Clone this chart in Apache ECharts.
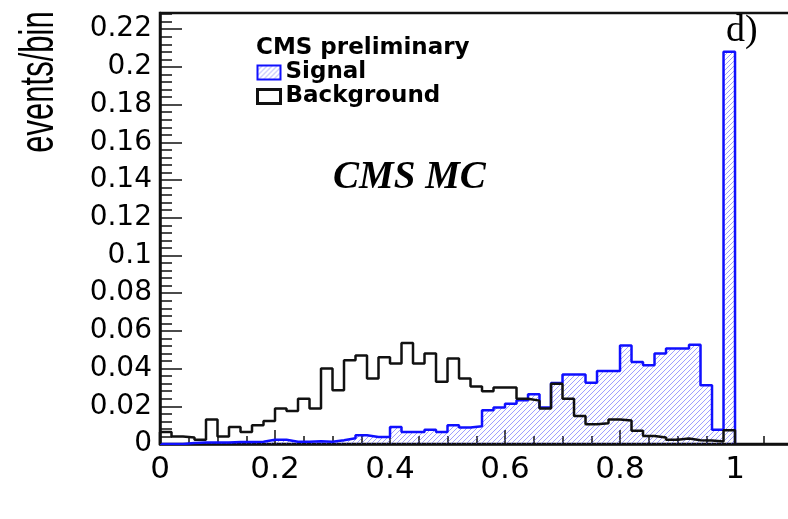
<!DOCTYPE html>
<html>
<head>
<meta charset="utf-8">
<script src="https://cdn.jsdelivr.net/npm/echarts@6/dist/echarts.min.js"></script>
<style>
  html, body { margin: 0; padding: 0; background: #fff; }
  #chart { width: 788px; height: 519px; }
</style>
</head>
<body>
<div id="chart"></div>
<script>
// Histogram binning: 50 bins of width 0.02 between 0 and 1
const BIN_WIDTH = 0.02;

// Signal events per bin (normalised)
const signalCounts = [
  0.0000, 0.0000, 0.0005, 0.0008, 0.0008, 0.0008, 0.0010, 0.0010, 0.0012, 0.0022,
  0.0022, 0.0012, 0.0012, 0.0015, 0.0012, 0.0020, 0.0030, 0.0046, 0.0037, 0.0037,
  0.0090, 0.0064, 0.0064, 0.0076, 0.0064, 0.0099, 0.0088, 0.0094, 0.0179, 0.0193,
  0.0214, 0.0232, 0.0264, 0.0193, 0.0324, 0.0368, 0.0368, 0.0325, 0.0387, 0.0387,
  0.0522, 0.0435, 0.0418, 0.0480, 0.0506, 0.0506, 0.0526, 0.0312, 0.0076, 0.2080
];

// Background events per bin (normalised)
const backgroundCounts = [
  0.0064, 0.0040, 0.0035, 0.0023, 0.0130, 0.0040, 0.0090, 0.0064, 0.0099, 0.0122,
  0.0188, 0.0175, 0.0240, 0.0188, 0.0400, 0.0285, 0.0444, 0.0470, 0.0347, 0.0460,
  0.0427, 0.0536, 0.0427, 0.0480, 0.0330, 0.0453, 0.0347, 0.0305, 0.0280, 0.0300,
  0.0300, 0.0240, 0.0230, 0.0188, 0.0320, 0.0240, 0.0148, 0.0105, 0.0110, 0.0130,
  0.0125, 0.0070, 0.0042, 0.0035, 0.0023, 0.0029, 0.0020, 0.0019, 0.0013, 0.0073
];

// Axis tick labels
const xTickLabels = ['0', '0.2', '0.4', '0.6', '0.8', '1'];
const yTickLabels = ['0', '0.02', '0.04', '0.06', '0.08', '0.1', '0.12', '0.14',
                     '0.16', '0.18', '0.2', '0.22'];

// Turn per-bin counts into step-line vertices (bin low edge, content)
function histogramSteps(counts) {
  const pts = [[0, 0]];
  counts.forEach((v, i) => pts.push([+(i * BIN_WIDTH).toFixed(2), v]));
  pts.push([+(counts.length * BIN_WIDTH).toFixed(2), 0]);
  return pts;
}

// Diagonal hatch fill used for the signal histogram
function makeHatch() {
  const c = document.createElement('canvas');
  c.width = 5; c.height = 5;
  const g = c.getContext('2d');
  g.strokeStyle = 'rgba(80,80,255,0.55)';
  g.lineWidth = 1;
  g.beginPath();
  g.moveTo(-1, 6); g.lineTo(6, -1);
  g.moveTo(-1, 1); g.lineTo(1, -1);
  g.moveTo(4, 6); g.lineTo(6, 4);
  g.stroke();
  return { image: c, repeat: 'repeat' };
}
const hatch = makeHatch();

function tickFormatter(list) {
  return function (v) {
    const s = String(+v.toFixed(4));
    return list.indexOf(s) >= 0 ? s : '';
  };
}

const chart = echarts.init(document.getElementById('chart'), null, { renderer: 'canvas' });

chart.setOption({
  animation: false,
  backgroundColor: '#fff',
  grid: {
    left: 160, top: 13, width: 658, bottom: 75,
    show: true, borderColor: '#111', borderWidth: 2.5,
    containLabel: false, outerBoundsMode: 'none'
  },
  title: [
    {
      text: 'CMS preliminary', left: 256, top: 37, padding: 0,
      textStyle: { fontFamily: 'DejaVu Sans', fontWeight: 'bold', fontSize: 23, color: '#000' }
    },
    {
      text: 'CMS MC', left: 333, top: 158, padding: 0,
      textStyle: { fontFamily: 'Liberation Serif', fontStyle: 'italic', fontWeight: 'bold', fontSize: 39, color: '#000' }
    },
    {
      text: 'd)', left: 726, top: 12, padding: 0,
      textStyle: { fontFamily: 'Liberation Serif', fontWeight: 'normal', fontSize: 38, color: '#000' }
    }
  ],
  legend: {
    orient: 'vertical', left: 256, top: 61,
    itemWidth: 23, itemHeight: 14, itemGap: 1,
    selectedMode: false, padding: 0,
    textStyle: { fontFamily: 'DejaVu Sans', fontWeight: 'bold', fontSize: 23, lineHeight: 18, color: '#000' },
    data: [
      { name: 'Signal', icon: 'rect', itemStyle: { color: hatch, borderColor: '#1010ff', borderWidth: 2 } },
      { name: 'Background', icon: 'rect', itemStyle: { color: '#fff', borderColor: '#111', borderWidth: 3 } }
    ]
  },
  graphic: [
    {
      type: 'text', x: 40, y: 82, rotation: Math.PI / 2, scaleY: 1.55,
      style: {
        text: 'events/bin', fill: '#000',
        font: '31px "Liberation Sans"', align: 'center', verticalAlign: 'middle'
      }
    }
  ],
  xAxis: {
    type: 'value', min: 0, max: 1.1443, interval: 0.2,
    axisLine: { lineStyle: { color: '#111', width: 2.5 } },
    axisTick: { inside: true, length: 14, lineStyle: { color: '#111', width: 1.5 } },
    minorTick: { show: true, splitNumber: 4, length: 8, lineStyle: { color: '#111', width: 1.5 } },
    splitLine: { show: false },
    axisLabel: {
      margin: 10, showMaxLabel: false, color: '#000',
      fontFamily: 'DejaVu Sans', fontSize: 31,
      formatter: tickFormatter(xTickLabels)
    }
  },
  yAxis: {
    type: 'value', min: 0, max: 0.2286, interval: 0.02,
    axisLine: { lineStyle: { color: '#111', width: 2.5 } },
    axisTick: { inside: true, length: 22, lineStyle: { color: '#111', width: 1.5 } },
    minorTick: { show: true, splitNumber: 5, length: 12, lineStyle: { color: '#111', width: 1.5 } },
    splitLine: { show: false },
    axisLabel: {
      margin: 8, showMaxLabel: false, color: '#000',
      fontFamily: 'DejaVu Sans', fontSize: 28, padding: [10, 0, 0, 0],
      formatter: tickFormatter(yTickLabels)
    }
  },
  series: [
    {
      name: 'Signal', type: 'line', step: 'end',
      data: histogramSteps(signalCounts),
      showSymbol: false, symbol: 'none',
      lineStyle: { color: '#1010ff', width: 2.5 },
      itemStyle: { color: '#1010ff' },
      areaStyle: { color: hatch, opacity: 1, origin: 'start' },
      z: 2
    },
    {
      name: 'Background', type: 'line', step: 'end',
      data: histogramSteps(backgroundCounts),
      showSymbol: false, symbol: 'none',
      lineStyle: { color: '#111', width: 2.5 },
      itemStyle: { color: '#111' },
      z: 3
    }
  ]
});
</script>
</body>
</html>
